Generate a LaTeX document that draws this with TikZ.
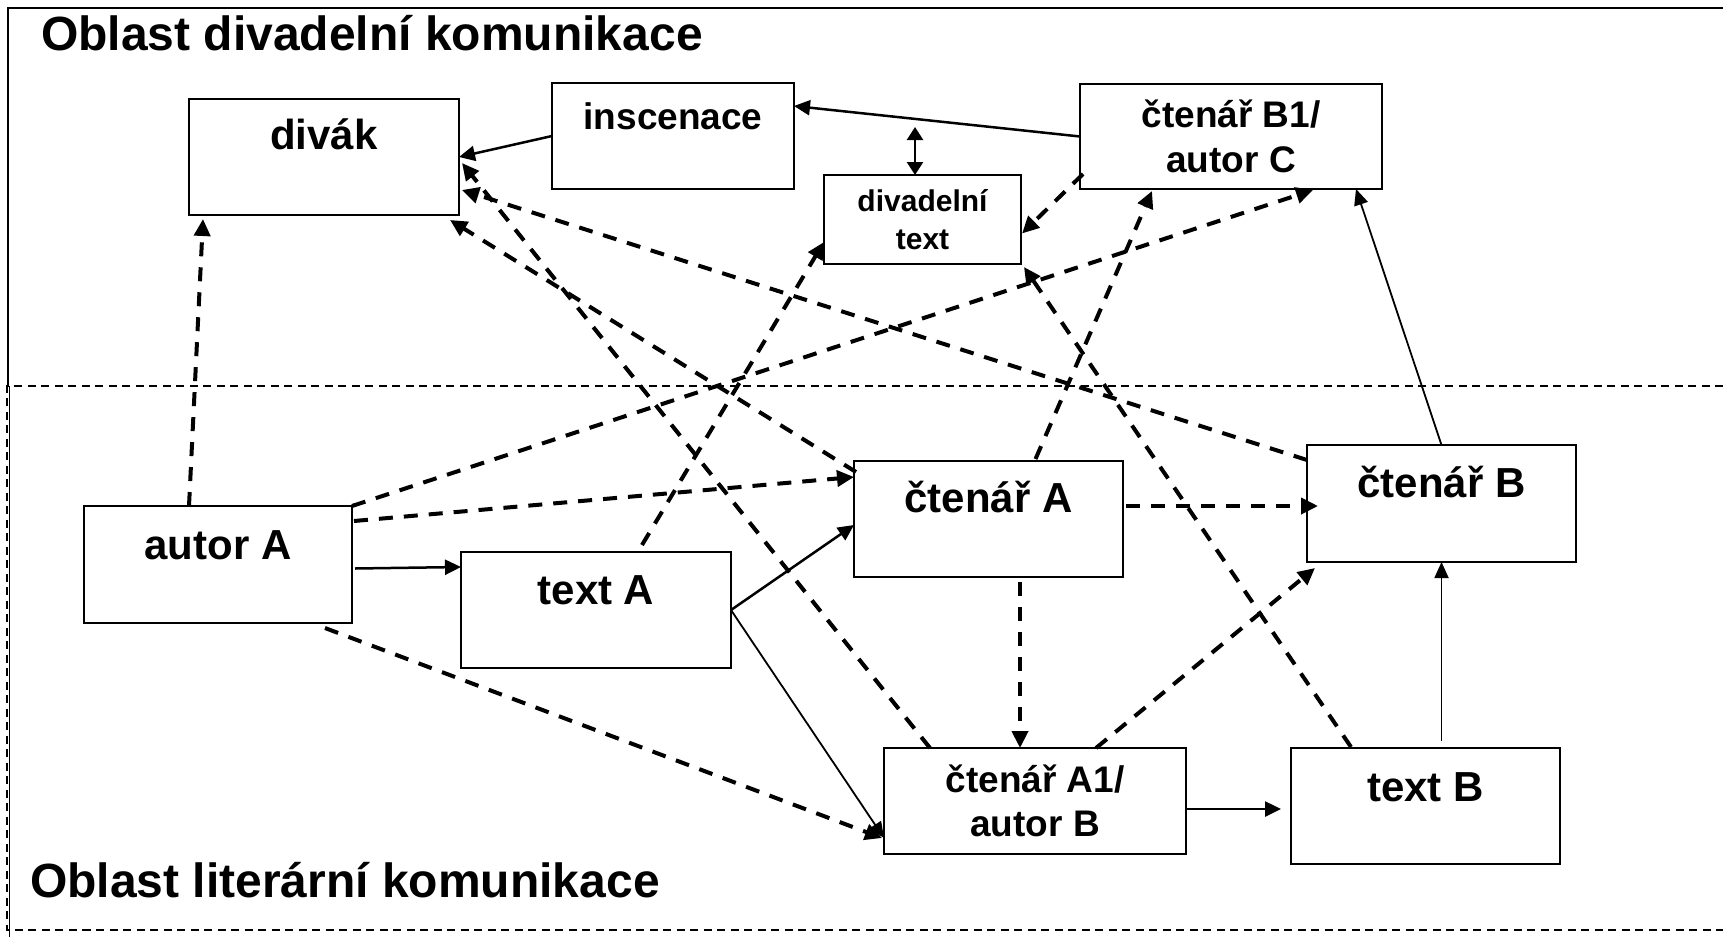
\documentclass[tikz,border=0pt]{standalone}
\usepackage{fontspec}
\setmainfont{Liberation Sans}
\usepackage{tikz}
\usetikzlibrary{arrows.meta,calc}
\tikzset{
    box/.style={draw,line width=2pt,inner sep=0pt,outer sep=0pt,anchor=north west},
    velke/.style={font=\fontsize{42}{50}\selectfont\bfseries,text height=0pt},
    stredni/.style={font=\fontsize{37}{44.3}\selectfont\bfseries},
    male/.style={font=\fontsize{30}{37.7}\selectfont\bfseries},
    nadpis/.style={font=\fontsize{48}{58}\selectfont\bfseries,anchor=base west,inner sep=0pt},
    spoj/.style={line width=2.5pt,-{Triangle[length=16pt,width=15pt]}},
    tenka/.style={line width=1.8pt,-{Triangle[length=16pt,width=14pt]}},
    carkovana/.style={line width=4pt,dash pattern=on 14pt off 11pt,-{Triangle[length=17pt,width=16pt]}},
    ramec/.style={line width=2pt,dash pattern=on 8pt off 5.5pt}
}
\begin{document}
\begin{tikzpicture}[x=1pt,y=-1pt]
                    \useasboundingbox(0,0)rectangle(1723,937);
                    \draw[line width=2.5pt](1723,8)--(8,8)--(8,386);
                    \draw[line width=1pt](9,386)--(9,937);
                    \draw[ramec](1723,386)--(7,386)--(7,930)--(1723,930);
                    \node[nadpis](oblastdiv) at (41,50){Oblast divadelní komunikace};
                    \node[nadpis](oblastlit) at (30,897){Oblast literární komunikace};
                    \node[box,velke,text depth=16pt,minimum width=270pt,minimum height=116pt](divak) at (189,99){divák};
                    \node[box,stredni,text height=0pt,text depth=14pt,minimum width=242pt,minimum height=106pt](inscenace) at (552,83){inscenace};
                    \node[box,stredni,align=center,minimum width=302pt,minimum height=105pt](ctenarBjedna) at (1080,84){čtenář B1/\\autor C};
                    \node[box,male,align=center,minimum width=197pt,minimum height=89pt](divtext) at (824,175){divadelní\\text};
                    \node[box,velke,text depth=11pt,minimum width=268pt,minimum height=117pt](autorA) at (84,506){autor A};
                    \node[box,velke,text depth=12pt,minimum width=270pt,minimum height=116pt](textA) at (461,552){text A};
                    \node[box,velke,text depth=14pt,minimum width=269pt,minimum height=116pt](ctenarA) at (854,461){čtenář A};
                    \node[box,velke,text depth=12pt,minimum width=269pt,minimum height=117pt](ctenarB) at (1307,445){čtenář B};
                    \node[box,stredni,align=center,minimum width=302pt,minimum height=106pt](ctenarAjedna) at (884,748){čtenář A1/\\autor B};
                    \node[box,velke,text depth=10pt,minimum width=269pt,minimum height=116pt](textB) at (1291,748){text B};
                    \draw[spoj](inscenace.west)--(divak.east);
                    \draw[spoj](ctenarBjedna.west)--($(inscenace.north east)+(0,23)$);
                    \coordinate(styk) at (915,127);
                    \draw[line width=2.5pt,{Triangle[length=13pt,width=16pt]}-{Triangle[length=13pt,width=16pt]}](styk)--(styk|-divtext.north);
                    \draw[spoj]($(autorA.east)+(3,4)$)--($(textA.north west)+(0,15)$);
                    \draw[spoj](textA.east)--($(ctenarA.west)+(0,6)$);
                    \draw[tenka](textA.east)--($(ctenarAjedna.south west)+(0,-16)$);
                    \draw[spoj,shorten >=10pt]($(ctenarAjedna.east)+(0,8)$)--($(textB.west)+(0,3)$);
                    \draw[tenka]($(ctenarB.south)+(0,179)$)--(ctenarB.south);
                    \draw[tenka](ctenarB.north)--($(ctenarBjedna.south east)+(-26,0)$);
                    \draw[carkovana]($(autorA.north west)+(105,0)$)--($(divak.south west)+(14,4)$);
                    \draw[carkovana](autorA.north east)--($(ctenarBjedna.south east)+(-69,1)$);
                    \draw[carkovana]($(autorA.north east)+(2,15)$)--($(ctenarA.north west)+(0,16)$);
                    \draw[carkovana]($(autorA.south east)+(-27,5)$)--($(ctenarAjedna.south west)+(-2,-16)$);
                    \draw[carkovana]($(textA.north)+(46,-7)$)--($(divtext.south west)+(0,-22)$);
                    \draw[carkovana]($(ctenarA.north)+(47,-2)$)--($(ctenarBjedna.south west)+(72,2)$);
                    \draw[carkovana]($(ctenarA.north west)+(2,11)$)--($(divak.south east)+(-9,5)$);
                    \draw[carkovana]($(ctenarB.north west)+(0,15)$)--($(divak.south east)+(3,-25)$);
                    \draw[carkovana]($(ctenarAjedna.north west)+(46,0)$)--($(divak.east)+(3,6)$);
                    \draw[carkovana]($(textB.north west)+(60,-1)$)--($(divtext.south east)+(3,3)$);
                    \draw[carkovana]($(ctenarA.east)+(3,-13)$)--($(ctenarB.west)+(11,2.5)$);
                    \draw[carkovana]($(ctenarA.south east)+(-103,5)$)--($(ctenarAjedna.north west)+(136,0)$);
                    \draw[carkovana]($(ctenarAjedna.north west)+(212,0)$)--($(ctenarB.south west)+(8,6)$);
                    \draw[carkovana]($(ctenarBjedna.south west)+(3,-15)$)--($(divtext.east)+(1,14)$);
                \end{tikzpicture}
\end{document}
